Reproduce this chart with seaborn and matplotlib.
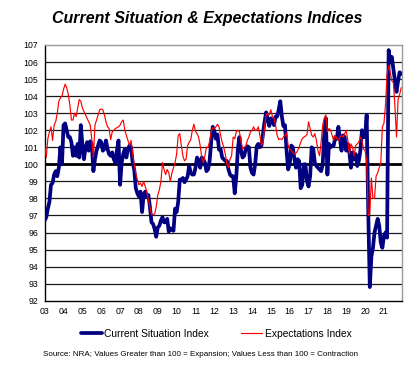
import numpy as np
import pandas as pd
import matplotlib
matplotlib.use("Agg")
import matplotlib.pyplot as plt
import seaborn as sns

# ---- data (monthly, Jan 2003 - Dec 2021) ----
year_labels = ["03", "04", "05", "06", "07", "08", "09", "10", "11", "12",
               "13", "14", "15", "16", "17", "18", "19", "20", "21"]

current_situation = [
    96.7, 96.9, 97.4, 97.8, 98.8, 98.9, 99.4, 99.6, 99.3, 99.8, 101.0, 100.0,
    102.3, 102.4, 102.0, 101.6, 101.6, 101.3, 100.5, 101.0, 100.5, 101.2, 100.4, 102.3,
    101.1, 100.3, 101.0, 101.3, 100.8, 101.35, 101.2, 99.6, 100.3, 100.8, 101.1, 101.4,
    101.3, 100.8, 100.9, 101.4, 100.9, 100.6, 100.5, 100.7, 100.3, 100.1, 100.8, 101.4,
    98.8, 100.1, 100.6, 100.9, 100.4, 100.9, 101.1, 101.0, 100.1, 99.7, 98.6, 98.3,
    98.1, 98.4, 97.2, 98.2, 98.4, 98.1, 98.2, 97.5, 96.6, 96.5, 96.2, 95.75,
    96.3, 96.4, 96.7, 96.9, 96.6, 96.6, 96.8, 96.05, 96.25, 96.15, 96.1, 97.4,
    97.2, 97.8, 99.1, 99.1, 99.2, 98.95, 99.1, 99.3, 99.9, 99.5, 99.4, 99.4,
    99.8, 100.4, 100.2, 99.8, 100.4, 100.3, 100.1, 99.6, 99.7, 100.2, 101.3, 102.2,
    101.95, 101.5, 101.75, 100.86, 100.9, 100.4, 100.3, 100.2, 100.2, 99.7, 99.4, 99.3,
    99.3, 98.3, 99.3, 100.9, 101.6, 100.8, 100.4, 100.5, 100.9, 101.06, 101.0, 99.8,
    99.5, 99.4, 100.0, 101.06, 101.2, 101.0, 101.1, 101.8, 102.5, 103.05, 102.63, 102.25,
    102.7, 102.5, 102.3, 102.8, 102.8, 103.2, 103.7, 102.8, 102.24, 102.3, 100.8, 99.7,
    100.0, 101.1, 101.0, 100.3, 99.8, 100.3, 100.2, 98.6, 98.8, 100.0, 100.0, 99.0,
    98.7, 99.3, 101.0, 100.9, 100.1, 99.9, 99.8, 99.7, 99.6, 100.0, 101.8, 102.7,
    99.4, 101.2, 101.0, 101.1, 101.1, 101.6, 101.5, 102.2, 101.5, 100.8, 101.7, 101.6,
    100.8, 101.2, 100.7, 99.8, 100.7, 100.3, 100.6, 99.9, 100.2, 100.8, 102.0, 101.6,
    101.6, 102.9, 97.3, 92.8, 94.6, 95.1, 96.0, 96.4, 96.8, 96.4, 95.4, 95.1,
    95.8, 96.0, 95.7, 106.7, 106.0, 106.3, 105.6, 104.9, 104.25, 104.9, 105.4, 105.3,
]

expectations = [
    101.1, 100.4, 101.5, 101.9, 102.2, 101.4, 102.3, 102.5, 103.0, 103.7, 103.9, 104.0,
    104.4, 104.7, 104.5, 104.1, 103.5, 102.6, 102.6, 103.0, 102.8, 103.3, 103.8, 103.7,
    103.3, 103.1, 102.9, 102.7, 102.5, 102.3, 101.45, 100.4, 102.3, 102.6, 102.9, 103.2,
    103.25, 103.2, 102.9, 102.5, 102.2, 102.1, 101.45, 101.9, 102.0, 102.1, 102.15, 102.2,
    102.3, 102.5, 102.6, 102.0, 101.7, 101.4, 101.1, 101.4, 100.6, 100.0, 99.5, 99.1,
    98.8, 98.9, 98.7, 99.0, 98.7, 98.4, 97.9, 97.5, 97.05, 97.05, 97.1, 97.5,
    98.2, 98.5, 99.0, 100.1, 99.7, 99.4, 99.7, 99.5, 99.0, 99.5, 99.8, 100.1,
    100.6, 101.7, 101.8, 101.1, 100.5, 100.2, 100.3, 101.1, 101.3, 101.45, 102.0, 102.35,
    101.95, 101.8, 101.6, 101.1, 100.4, 100.1, 100.5, 101.0, 101.0, 101.35, 101.9, 102.15,
    102.1, 102.2, 102.35, 102.2, 101.7, 101.3, 101.0, 100.6, 100.0, 99.8, 100.3, 100.5,
    101.6, 101.5, 101.9, 102.0, 101.9, 101.3, 100.9, 101.0, 101.05, 101.4, 101.6, 101.9,
    102.0, 102.2, 102.0, 102.0, 102.2, 101.7, 101.1, 101.3, 102.2, 102.9, 103.0, 102.9,
    103.2, 102.8, 102.7, 102.3, 101.7, 101.45, 101.5, 101.45, 101.6, 101.7, 101.85, 101.1,
    100.9, 100.8, 100.7, 100.6, 100.65, 100.8, 101.0, 101.3, 101.5, 101.6, 101.65, 101.75,
    102.5, 102.1, 101.7, 101.6, 101.8, 101.4, 100.8, 100.5, 101.3, 102.3, 102.7, 102.9,
    101.9, 102.1, 102.0, 101.7, 101.4, 101.7, 101.5, 101.4, 101.6, 101.7, 101.6, 101.8,
    102.0, 101.4, 100.6, 101.2, 101.0, 100.5, 101.1, 101.2, 101.3, 101.6, 101.4, 100.9,
    100.8, 100.2, 97.0, 97.1, 99.2, 98.0, 98.0, 99.3, 99.5, 99.8, 100.1, 102.2,
    102.4, 103.5, 105.3, 105.8, 105.4, 104.9, 104.8, 103.4, 101.6, 103.8, 104.1, 104.5,
]

y_ticks = list(range(92, 108))

# ---- build frame ----
df = pd.DataFrame({
    "month": np.arange(len(current_situation)),
    "Current Situation Index": current_situation,
    "Expectations Index": expectations,
})

sns.set_theme(style="white")
plt.rcParams["font.family"] = ["Liberation Sans", "DejaVu Sans"]
plt.rcParams["text.color"] = "black"

fig = plt.figure(figsize=(4.1, 3.7), dpi=100)
ax = fig.add_axes([44.7 / 410, 1 - 300.7 / 370, (402 - 44.7) / 410, (300.7 - 45) / 370])

# gridlines
for v in y_ticks[1:-1]:
    if v == 100:
        continue
    ax.axhline(v, color="#1a1a1a", lw=0.9, zorder=1)
ax.axhline(100, color="black", lw=2.0, zorder=1.5)

sns.lineplot(data=df, x="month", y="Current Situation Index", ax=ax,
             color="#000080", lw=2.7, label="Current Situation Index", zorder=3)
sns.lineplot(data=df, x="month", y="Expectations Index", ax=ax,
             color="#ff0000", lw=0.85, label="Expectations Index", zorder=4)

ax.set_ylim(92, 107)
ax.set_xlim(0, 227.5)
ax.set_yticks(y_ticks)
ax.set_yticklabels([str(v) for v in y_ticks], fontsize=6.3)
ax.set_xticks(np.arange(0, 12 * len(year_labels), 12))
ax.set_xticklabels(year_labels, fontsize=6.3)
ax.set_xticks(np.arange(6, 12 * len(year_labels), 12), minor=True)
ax.set_xlabel("")
ax.set_ylabel("")
ax.tick_params(axis="both", which="both", direction="out", length=2.5, width=0.8,
               color="black", pad=2)
ax.tick_params(axis="both", which="major", labelcolor="black")

for s in ["left", "bottom"]:
    ax.spines[s].set_color("black")
    ax.spines[s].set_linewidth(1.0)
for s in ["top", "right"]:
    ax.spines[s].set_color("#9a9a9a")
    ax.spines[s].set_linewidth(1.0)

ax.get_legend().remove()
handles, labels = ax.get_legend_handles_labels()
leg = fig.legend(handles, labels, loc="center", bbox_to_anchor=(216 / 410, 1 - 334 / 370),
                 ncol=2, frameon=False, fontsize=7.35, handlelength=2.06,
                 handletextpad=0.23, columnspacing=3.2)
for t in leg.get_texts():
    t.set_color("black")

fig.text(207 / 410, 1 - 18 / 370, "Current Situation & Expectations Indices",
         ha="center", va="center", fontsize=11.5, fontweight="bold", style="italic",
         color="black")
fig.text(201 / 410, 1 - 354 / 370,
         "Source: NRA; Values Greater than 100 = Expansion; Values Less than 100 = Contraction",
         ha="center", va="center", fontsize=5.76, color="black")

fig.savefig("out.png", dpi=100)
